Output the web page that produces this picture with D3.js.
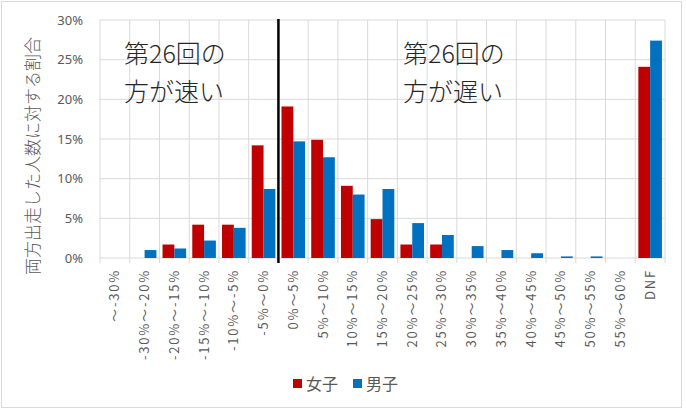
<!DOCTYPE html>
<html>
<head>
<meta charset="utf-8">
<script src="https://cdn.jsdelivr.net/npm/d3@7"></script>
<style>
  body { margin: 0; background: #fff; }
  text { font-family: "Noto Sans CJK JP", "Noto Sans", sans-serif; }
</style>
</head>
<body>
<div id="chart"></div>
<script>
// categories (change rate vs. 26th race)
const categories = ["～-30%", "-30%～-20%", "-20%～-15%", "-15%～-10%", "-10%～-5%", "-5%～0%",
    "0%～5%", "5%～10%", "10%～15%", "15%～20%", "20%～25%", "25%～30%", "30%～35%",
    "35%～40%", "40%～45%", "45%～50%", "50%～55%", "55%～60%", "DNF"];
const seriesNames = ["女子", "男子"];
const women = [0, 0, 1.7, 4.2, 4.2, 14.2, 19.1, 14.9, 9.1, 4.9, 1.7, 1.7, 0, 0, 0, 0, 0, 0, 24.1];
const men = [0, 1.0, 1.2, 2.2, 3.8, 8.7, 14.7, 12.7, 8.0, 8.7, 4.4, 2.9, 1.5, 1.0, 0.6, 0.2, 0.2, 0, 27.4];
const yTicks = [0, 5, 10, 15, 20, 25, 30];
const colors = ["#C00000", "#0070C0"];

const W = 686, H = 412;
const margin = { top: 20, right: 21, bottom: 154, left: 100 };

const svg = d3.select("#chart").append("svg")
    .attr("width", W).attr("height", H);

// outer border
svg.append("rect")
    .attr("x", 1.5).attr("y", 1.5)
    .attr("width", 680).attr("height", 406)
    .attr("fill", "#fff").attr("stroke", "#d9d9d9");

const x = d3.scaleBand()
    .domain(categories)
    .range([margin.left, W - margin.right]);

const x1 = d3.scaleBand()
    .domain(seriesNames)
    .range([0, x.bandwidth()])
    .paddingOuter(0.26);

const y = d3.scaleLinear()
    .domain([0, 30])
    .range([H - margin.bottom, margin.top]);

// horizontal gridlines
svg.append("g")
    .selectAll("line")
    .data(yTicks)
    .join("line")
    .attr("x1", margin.left).attr("x2", W - margin.right)
    .attr("y1", d => y(d)).attr("y2", d => y(d))
    .attr("stroke", "#d9d9d9");

// vertical gridlines (category boundaries) with ticks below axis
const bounds = categories.map(c => x(c)).concat([x.range()[1]]);
svg.append("g")
    .selectAll("line")
    .data(bounds)
    .join("line")
    .attr("x1", d => d).attr("x2", d => d)
    .attr("y1", margin.top).attr("y2", y(0) + 5)
    .attr("stroke", "#d9d9d9");

// y axis labels
const yAxis = d3.axisLeft(y)
    .tickValues(yTicks)
    .tickFormat(d => d + "%")
    .tickSize(0)
    .tickPadding(17);

svg.append("g")
    .attr("transform", `translate(${margin.left},0)`)
    .call(yAxis)
    .call(g => g.select(".domain").remove())
    .selectAll("text")
    .attr("fill", "#595959")
    .attr("font-size", 13)
    .style("font-family", "'Noto Sans', sans-serif");

// bars
const rows = categories.map((c, i) => ({ cat: c, values: [women[i], men[i]] }));

svg.append("g")
    .selectAll("g")
    .data(rows)
    .join("g")
    .attr("transform", d => `translate(${x(d.cat)},0)`)
    .selectAll("rect")
    .data(d => d.values.map((v, j) => ({ key: seriesNames[j], v: v, j: j })))
    .join("rect")
    .attr("x", d => x1(d.key))
    .attr("width", x1.bandwidth())
    .attr("y", d => y(d.v))
    .attr("height", d => y(0) - y(d.v))
    .attr("fill", d => colors[d.j]);

// x axis labels
svg.append("g")
    .selectAll("text")
    .data(categories)
    .join("text")
    .attr("transform", d => `translate(${x(d) + x.bandwidth() / 2 + 4.5},${y(0) + 11}) rotate(-90)`)
    .attr("text-anchor", "end")
    .attr("fill", "#595959")
    .attr("font-size", 13)
    .attr("letter-spacing", 1.8)
    .text(d => d);

// divider between faster / slower
const divX = x("0%～5%");
svg.append("line")
    .attr("x1", divX).attr("x2", divX)
    .attr("y1", margin.top - 1).attr("y2", y(0) + 5)
    .attr("stroke", "#000")
    .attr("stroke-width", 2.5);

// annotations
const notes = [
    { x: 124, lines: ["第26回の", "方が速い"] },
    { x: 403, lines: ["第26回の", "方が遅い"] }
];
notes.forEach(n => {
    n.lines.forEach((t, i) => {
        svg.append("text")
            .attr("x", n.x).attr("y", 63 + i * 38)
            .attr("font-size", 25)
            .attr("font-weight", 300)
            .attr("fill", "#262626")
            .text(t);
    });
});

// y axis title
svg.append("text")
    .attr("transform", `translate(39,156) rotate(-90)`)
    .attr("text-anchor", "middle")
    .attr("font-size", 17)
    .attr("font-weight", 300)
    .attr("fill", "#595959")
    .text("両方出走した人数に対する割合");

// legend
const legend = svg.append("g")
    .attr("transform", "translate(293,0)");
const legItems = [{ name: "女子", dx: 0 }, { name: "男子", dx: 60 }];
legItems.forEach((d, i) => {
    legend.append("rect")
        .attr("x", d.dx).attr("y", 379)
        .attr("width", 9).attr("height", 9)
        .attr("fill", colors[i]);
    legend.append("text")
        .attr("x", d.dx + 13).attr("y", 390)
        .attr("font-size", 16)
        .attr("fill", "#595959")
        .text(d.name);
});
</script>
</body>
</html>
